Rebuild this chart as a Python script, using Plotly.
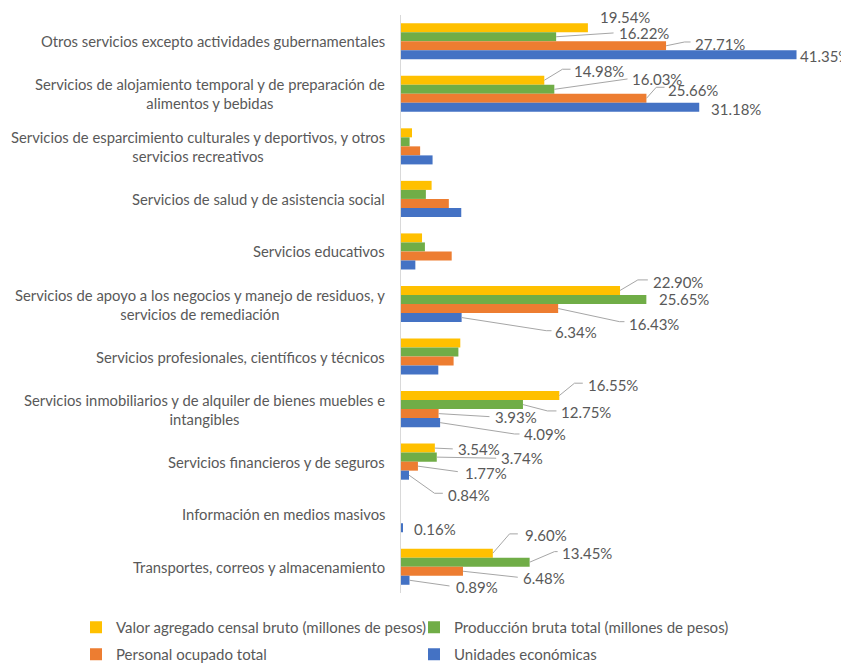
import plotly.graph_objects as go

# ---------------- data ----------------
categories = [
    "Otros servicios excepto actividades gubernamentales",
    "Servicios de alojamiento temporal y de preparación de alimentos y bebidas",
    "Servicios de esparcimiento culturales y deportivos, y otros servicios recreativos",
    "Servicios de salud y de asistencia social",
    "Servicios educativos",
    "Servicios de apoyo a los negocios y manejo de residuos, y servicios de remediación",
    "Servicios profesionales, científicos y técnicos",
    "Servicios inmobiliarios y de alquiler de bienes muebles e intangibles",
    "Servicios financieros y de seguros",
    "Información en medios masivos",
    "Transportes, correos y almacenamiento",
]
tick_labels = [
    "Otros servicios excepto actividades gubernamentales",
    "Servicios de alojamiento temporal y de preparación de<br>alimentos y bebidas",
    "Servicios de esparcimiento culturales y deportivos, y otros<br>servicios recreativos",
    "Servicios de salud y de asistencia social",
    "Servicios educativos",
    "Servicios de apoyo a los negocios y manejo de residuos, y<br>servicios de remediación",
    "Servicios profesionales, científicos y técnicos",
    "Servicios inmobiliarios y de alquiler de bienes muebles e<br>intangibles",
    "Servicios financieros y de seguros",
    "Información en medios masivos",
    "Transportes, correos y almacenamiento",
]
series_names = [
    "Valor agregado censal bruto (millones de pesos)",
    "Producción bruta total (millones de pesos)",
    "Personal ocupado total",
    "Unidades económicas",
]
valor_agregado = [19.54, 14.98, 1.15, 3.2, 2.2, 22.90, 6.2, 16.55, 3.54, 0.0, 9.60]
produccion     = [16.22, 16.03, 0.9, 2.6, 2.5, 25.65, 6.0, 12.75, 3.74, 0.0, 13.45]
personal       = [27.71, 25.66, 2.0, 5.0, 5.3, 16.43, 5.5, 3.93, 1.77, 0.0, 6.48]
unidades       = [41.35, 31.18, 3.3, 6.3, 1.5, 6.34, 3.9, 4.09, 0.84, 0.16, 0.89]
series_values = [valor_agregado, produccion, personal, unidades]

# which bars carry a data label (series index, category index)
labeled_bars = [
    (0, 0), (1, 0), (2, 0), (3, 0),
    (0, 1), (1, 1), (2, 1), (3, 1),
    (0, 5), (1, 5), (2, 5), (3, 5),
    (0, 7), (1, 7), (2, 7), (3, 7),
    (0, 8), (1, 8), (2, 8), (3, 8),
    (3, 9),
    (0, 10), (1, 10), (2, 10), (3, 10),
]

# ---------------- styling / placement ----------------
colors = ["#FFC000", "#70AD47", "#ED7D31", "#4472C4"]
legend_of = ["legend", "legend", "legend2", "legend2"]
TEXT = "#595959"
LEADER = "#A6A6A6"
FONT = "Lato"
BARGAP = 0.313

# label placement: text offset (dx, dy screen px) from bar end, leader polyline (px, y up)
label_layout = {
    (0, 0): (9.6, -10.8, []),
    (1, 0): (61.1, -3.8, [(57.4, 3.8)]),
    (2, 0): (26.5, -1.8, [(18.5, 3.8), (24.5, 3.8)]),
    (3, 0): (1.0, 0.9, []),
    (0, 1): (28.2, -9.35, [(18.2, 11.05), (26.2, 11.05)]),
    (1, 1): (75.2, -10.35, [(73.2, 10.35)]),
    (2, 1): (19.8, -8.35, [(9.8, 11.05), (18.1, 11.05)]),
    (3, 1): (9.3, 1.65, []),
    (0, 5): (31.2, -8.85, [(17.8, 10.55), (27.8, 10.55)]),
    (1, 5): (10.2, 0.0, []),
    (2, 5): (68.6, 15.75, [(61.3, -13.15), (66.3, -13.15)]),
    (3, 5): (91.2, 14.15, [(84.6, -13.15), (89.9, -13.15)]),
    (0, 7): (26.9, -10.65, [(15.2, 12.35), (23.5, 12.35)]),
    (1, 7): (36.5, 7.05, [(24.5, -6.35), (33.5, -6.35)]),
    (2, 7): (54.9, 3.05, [(50.9, -3.05)]),
    (3, 7): (82.1, 11.35, [(74.4, -11.35), (79.4, -11.35)]),
    (0, 8): (21.3, 0.8, [(17.9, -0.8)]),
    (1, 8): (62.7, 1.1, [(59.4, -1.1)]),
    (2, 8): (44.9, 7.1, [(39.9, -5.5)]),
    (3, 8): (37.2, 19.8, [(25.5, -18.1), (33.8, -18.1)]),
    (3, 9): (9.7, 1.55, []),
    (0, 10): (30.0, -18.6, [(16.7, 19.3), (25.0, 19.3)]),
    (1, 10): (30.5, -9.0, [(24.8, 10.6), (28.0, 10.6)]),
    (2, 10): (58.2, 6.4, [(54.8, -6.0)]),
    (3, 10): (44.0, 6.4, [(40.0, -5.7)]),
}

fig = go.Figure()
for i, (name, vals) in enumerate(zip(series_names, series_values)):
    fig.add_trace(go.Bar(
        y=categories, x=vals, name=name, orientation="h",
        marker=dict(color=colors[i], line=dict(width=0)),
        legend=legend_of[i], hoverinfo="skip",
    ))

n_series = len(series_values)
bw = (1 - BARGAP) / n_series

def bar_y(s, k):
    return k - (1 - BARGAP) / 2 + (s + 0.5) * bw

annotations = []
shapes = []
for (s, k) in labeled_bars:
    v = series_values[s][k]
    dx, dy, pts = label_layout[(s, k)]
    yb = bar_y(s, k)
    annotations.append(dict(
        x=v, y=yb, xref="x", yref="y", text=f"{v:.2f}%", showarrow=False,
        xanchor="left", yanchor="middle", xshift=dx, yshift=-dy,
        font=dict(family=FONT, size=15, color=TEXT),
    ))
    if pts:
        path = "M0,0" + "".join(f" L{px},{py}" for px, py in pts)
        shapes.append(dict(
            type="path", xref="x", yref="y", xsizemode="pixel", ysizemode="pixel",
            xanchor=v, yanchor=yb, path=path,
            line=dict(color=LEADER, width=1), layer="above",
        ))

for k, lab in enumerate(tick_labels):
    annotations.append(dict(
        x=0, y=k, xref="paper", yref="y", text=lab, showarrow=False,
        xanchor="right", yanchor="middle", align="center", xshift=-14,
        font=dict(family=FONT, size=14.8, color=TEXT),
    ))

W, H = 841, 656          # the page body adds an 8 px offset
M = dict(l=393, r=8, t=7, b=71, autoexpand=False)
plot_w = W - M["l"] - M["r"]
plot_h = H - M["t"] - M["b"]
plot_bottom = H - M["b"]

legend_common = dict(
    orientation="h", x=(68 - M["l"]) / plot_w, xanchor="left", yanchor="top",
    entrywidth=293, entrywidthmode="pixels", itemwidth=30,
    font=dict(family=FONT, size=15, color=TEXT), bgcolor="rgba(0,0,0,0)",
    itemclick=False, itemdoubleclick=False,
)

fig.update_layout(
    width=W, height=H,
    margin=M,
    paper_bgcolor="white", plot_bgcolor="white",
    barmode="group", bargap=BARGAP, bargroupgap=0,
    font=dict(family=FONT, size=14, color=TEXT),
    xaxis=dict(visible=False, range=[0, 46.0]),
    yaxis=dict(type="category", range=[10.5, -0.5], showline=True, linecolor="#D9D9D9",
               linewidth=1, showticklabels=False, ticks="", showgrid=False, zeroline=False),
    legend=dict(legend_common, y=-(603 - plot_bottom) / plot_h),
    legend2=dict(legend_common, y=-(630 - plot_bottom) / plot_h),
    annotations=annotations, shapes=shapes,
    showlegend=True,
)

fig.write_html("out.html")
